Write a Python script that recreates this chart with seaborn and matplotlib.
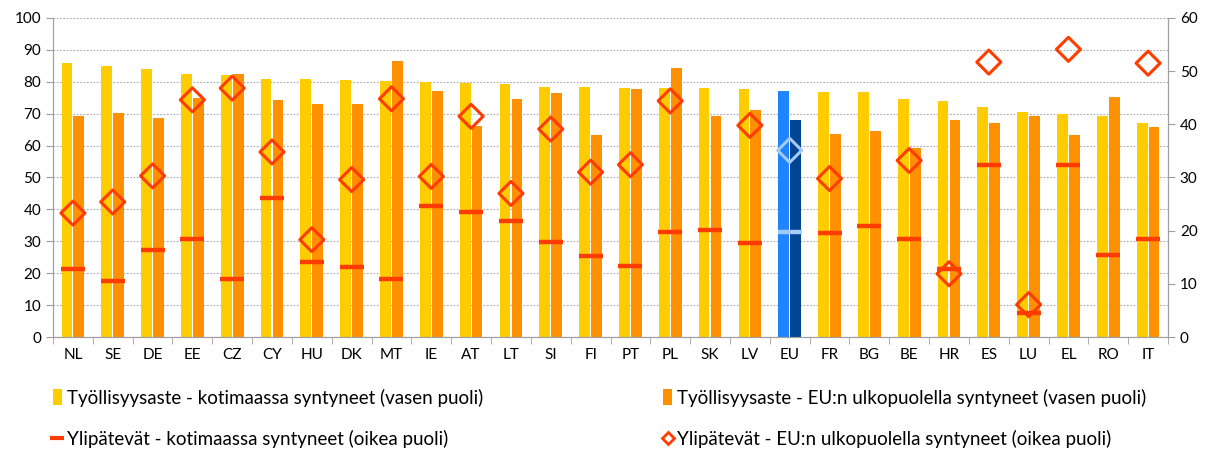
import numpy as np
import pandas as pd
import matplotlib.pyplot as plt
import seaborn as sns
from matplotlib.lines import Line2D
from matplotlib.patches import Patch

maat = ['NL', 'SE', 'DE', 'EE', 'CZ', 'CY', 'HU', 'DK', 'MT', 'IE', 'AT', 'LT', 'SI', 'FI',
        'PT', 'PL', 'SK', 'LV', 'EU', 'FR', 'BG', 'BE', 'HR', 'ES', 'LU', 'EL', 'RO', 'IT']
# työllisyysaste (vasen akseli)
koti_tyoll = [85.9, 84.8, 83.9, 82.5, 82.0, 81.0, 81.0, 80.7, 80.1, 79.9, 79.5, 79.2, 78.4, 78.4,
              78.2, 78.1, 78.1, 77.8, 77.0, 76.7, 76.7, 74.7, 74.1, 72.2, 70.6, 69.9, 69.3, 67.1]
ulko_tyoll = [69.4, 70.3, 68.7, 74.9, 82.5, 74.4, 72.9, 73.0, 86.6, 77.2, 66.2, 74.5, 76.4, 63.4,
              77.8, 84.4, 69.3, 71.3, 67.9, 63.5, 64.7, 59.2, 67.9, 67.1, 69.2, 63.4, 75.1, 65.9]
# ylipätevät (oikea akseli)
koti_yli = [12.7, 10.6, 16.4, 18.5, 11.0, 26.2, 14.2, 13.2, 11.0, 24.7, 23.6, 21.9, 17.9, 15.3,
            13.4, 19.8, 20.2, 17.7, 19.8, 19.6, 20.9, 18.5, 12.7, 32.4, 4.6, 32.4, 15.5, 18.5]
ulko_yli = [23.3, 25.4, 30.3, 44.6, 46.8, 34.8, 18.3, 29.6, 44.8, 30.2, 41.5, 27.0, 39.1, 31.0,
            32.4, 44.4, np.nan, 39.8, 35.1, 29.8, np.nan, 33.2, 11.9, 51.7, 6.1, 54.1, np.nan, 51.5]

s_koti_t = 'Työllisyysaste - kotimaassa syntyneet (vasen puoli)'
s_ulko_t = 'Työllisyysaste - EU:n ulkopuolella syntyneet (vasen puoli)'
s_koti_y = 'Ylipätevät - kotimaassa syntyneet (oikea puoli)'
s_ulko_y = 'Ylipätevät - EU:n ulkopuolella syntyneet (oikea puoli)'

keltainen = '#FFCC00'
oranssi = '#FF9100'
punainen = '#FF3C00'
eu_vaalea = '#1E85FF'
eu_tumma = '#004494'
eu_merkki = '#A3C9F7'

plt.rcParams['font.family'] = ['Lato', 'DejaVu Sans']

tyoll = pd.DataFrame({
    'maa': maat * 2,
    'sarja': [s_koti_t] * len(maat) + [s_ulko_t] * len(maat),
    'arvo': koti_tyoll + ulko_tyoll,
})
yli = pd.DataFrame({'maa': maat, 'koti': koti_yli, 'ulko': ulko_yli})
yli['eu'] = yli['maa'] == 'EU'

fig = plt.figure(figsize=(12.07, 4.49), dpi=100)
ax = fig.add_axes([0.0439, 0.2494, 0.9238, 0.7106])

sns.barplot(data=tyoll, x='maa', y='arvo', hue='sarja', palette=[keltainen, oranssi],
            width=0.6, gap=0.1, saturation=1, ax=ax, legend=False)
i_eu = maat.index('EU')
ax.containers[0][i_eu].set_facecolor(eu_vaalea)
ax.containers[1][i_eu].set_facecolor(eu_tumma)

ax.set_ylim(0, 100)
ax.set_yticks(range(0, 101, 10))
ax.set_xlim(-0.5, len(maat) - 0.5)
ax.set_xlabel('')
ax.set_ylabel('')
ax.grid(axis='y', color='#a8a8a8', linestyle=(0, (1.5, 1.5)), linewidth=0.8)
ax.set_axisbelow(True)

ax2 = ax.twinx()
muut = yli[~yli['eu']]
eu = yli[yli['eu']]
sns.scatterplot(data=muut, x='maa', y='koti', marker='_', s=280, linewidth=3.2,
                color=punainen, ax=ax2, legend=False)
sns.scatterplot(data=eu, x='maa', y='koti', marker='_', s=280, linewidth=3.2,
                color=eu_merkki, ax=ax2, legend=False)
sns.scatterplot(data=muut, x='maa', y='ulko', marker='D', s=150, linewidth=2.2,
                color=punainen, facecolors='none', edgecolor=punainen, ax=ax2, legend=False)
sns.scatterplot(data=eu, x='maa', y='ulko', marker='D', s=150, linewidth=2.2,
                color=eu_merkki, facecolors='none', edgecolor=eu_merkki, ax=ax2, legend=False)
ax2.set_ylim(0, 60)
ax2.set_yticks(range(0, 61, 10))
ax2.set_ylabel('')
ax2.set_xlim(-0.5, len(maat) - 0.5)

for a in (ax, ax2):
    a.spines['top'].set_visible(False)
    for s in ['left', 'right', 'bottom']:
        a.spines[s].set_color('#a0a0a0')
    a.tick_params(axis='y', labelsize=11, colors='#a0a0a0', labelcolor='black', length=5)

ax.set_xticks(range(len(maat)))
ax.set_xticklabels(maat)
ax.set_xticks(np.arange(-0.5, len(maat), 1), minor=True)
ax.tick_params(axis='x', which='major', length=0, labelsize=11, pad=8)
ax.tick_params(axis='x', which='minor', length=5, color='#a0a0a0')

kahvat = [
    Patch(facecolor=keltainen, label=s_koti_t),
    Line2D([], [], marker='_', linestyle='none', color=punainen, markersize=10,
           markeredgewidth=3, label=s_koti_y),
    Patch(facecolor=oranssi, label=s_ulko_t),
    Line2D([], [], marker='D', linestyle='none', color=punainen, markerfacecolor='none',
           markersize=6, markeredgewidth=2, label=s_ulko_y),
]
fig.legend(handles=kahvat, ncol=2, loc='upper left', bbox_to_anchor=(0.03, 0.172),
           frameon=False, fontsize=13.5, handlelength=0.45, handleheight=0.9, handletextpad=0.3,
           columnspacing=9.6, labelspacing=1.25)

fig.savefig('out.png', dpi=100)
